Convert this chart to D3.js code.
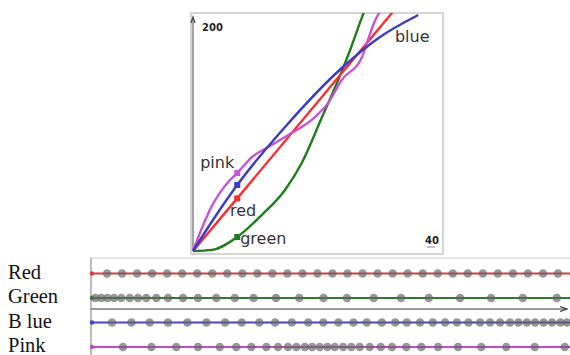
<!DOCTYPE html>
<html>
<head>
<meta charset="utf-8">
<script src="https://cdn.jsdelivr.net/npm/d3@7"></script>
<style>
  body { margin: 0; background: #fff; }
  svg { display: block; }
</style>
</head>
<body>
<svg id="chart" width="570" height="355"></svg>
<script>
// ---- data, top panel (input 0..40, output 0..200) ----
const redCurve = [[0, 0], [7.4, 47], [34, 217]];
const blueCurve = [[0, 0], [3.7, 30.6], [7.4, 58.9], [15.4, 110.7], [24.9, 163.4], [31, 190], [37.7, 210.7]];
const pinkCurve = [[0, 0], [3.1, 39.6], [5.9, 61.6], [7.4, 69.6], [9.9, 83.9], [12.6, 92.9], [15.4, 101.8], [20.4, 119.6], [22.6, 132], [24.9, 152.7], [28.3, 173.2], [29.1, 185.7], [30.5, 206], [31.3, 214]];
const greenCurve = [[0, 0], [3.2, 1], [7.4, 12.5], [11.5, 32.1], [15.4, 54.5], [18.2, 78.6], [21.6, 119.6], [24.3, 152.7], [26.3, 179.5], [28.3, 209], [28.8, 216]];
const markerX = 7.4;
const curveLabels = [
  {name: "pink", x: 1.2, y: 74},
  {name: "red", x: 6.2, y: 31},
  {name: "green", x: 7.9, y: 6},
  {name: "blue", x: 33.8, y: 187}
];
const yTickLabel = "200";
const xTickLabel = "40";

// ---- data, bottom panel (sample positions) ----
const rowLabels = ["Red", "Green", "B lue", "Pink"];
const redDots = d3.range(1, 32);
const greenDots = [0.22, 0.62, 1.02, 1.46, 1.95, 2.51, 3.06, 3.61, 4.28, 5.06, 6.05, 7.05, 8.27, 9.5, 10.75, 12.24, 13.79, 15.4, 16.96, 18.74, 20.56, 22.4, 24.49, 26.55, 28.66, 30.92];
const blueDots = [1.33, 2.62, 3.84, 5.06, 6.35, 7.61, 8.85, 9.96, 11.13, 12.18, 13.29, 14.39, 15.39, 16.39, 17.39, 18.28, 19.28, 20.17, 20.94, 21.82, 22.67, 23.49, 24.27, 25.04, 25.82, 26.48, 27.15, 27.81, 28.37, 28.93, 29.48, 30.04, 30.6, 31.16, 31.6];
const pinkDots = [2.06, 3.95, 5.61, 7.05, 8.5, 9.6, 10.6, 11.6, 12.38, 13.04, 13.6, 14.16, 14.64, 15.15, 15.66, 16.15, 16.7, 17.25, 17.81, 18.48, 19.21, 19.96, 20.91, 21.91, 23.02, 24.35, 25.9, 27.56, 29.45, 31.45];

const svg = d3.select("#chart");

// ================= top panel =================
const x = d3.scaleLinear().domain([0, 40]).range([193, 432]);
const y = d3.scaleLinear().domain([0, 200]).range([251, 27]);

const box = {x: 191, y: 13, w: 252, h: 241};

svg.append("defs").append("clipPath").attr("id", "boxclip")
  .append("rect").attr("x", box.x).attr("y", box.y).attr("width", box.w).attr("height", box.h);

svg.append("rect")
  .attr("x", box.x).attr("y", box.y).attr("width", box.w).attr("height", box.h)
  .attr("fill", "#fff").attr("stroke", "#c8c8c8").attr("stroke-width", 1.5);

// left axis with little arrow
svg.append("line")
  .attr("x1", x(0)).attr("x2", x(0)).attr("y1", y(0)).attr("y2", 18)
  .attr("stroke", "#666").attr("stroke-width", 1.2);
svg.append("path")
  .attr("d", `M${x(0) - 2},23 L${x(0)},17 L${x(0) + 2},23`)
  .attr("fill", "none").attr("stroke", "#444").attr("stroke-width", 1.2);

svg.append("text")
  .attr("x", x(0) + 9).attr("y", y(200) + 4)
  .attr("font-family", "DejaVu Sans, sans-serif").attr("font-size", 10).attr("font-weight", "bold")
  .attr("fill", "#222").text(yTickLabel);
svg.append("text")
  .attr("x", x(40)).attr("y", y(0) - 7).attr("text-anchor", "middle")
  .attr("font-family", "DejaVu Sans, sans-serif").attr("font-size", 10).attr("font-weight", "bold")
  .attr("fill", "#222").text(xTickLabel);
svg.append("line")
  .attr("x1", x(40) - 5).attr("x2", x(40) + 3).attr("y1", y(0) - 4).attr("y2", y(0) - 4)
  .attr("stroke", "#888").attr("stroke-width", 1);

const line = d3.line().x(d => x(d[0])).y(d => y(d[1])).curve(d3.curveMonotoneX);
const curves = [
  {data: greenCurve, color: "#1e7d1e"},
  {data: redCurve, color: "#ff2b2b"},
  {data: pinkCurve, color: "#c455d6"},
  {data: blueCurve, color: "#3b3bc4"}
];
const gc = svg.append("g").attr("clip-path", "url(#boxclip)");
gc.selectAll("path.curve").data(curves).join("path")
  .attr("class", "curve")
  .attr("d", d => line(d.data))
  .attr("fill", "none")
  .attr("stroke", d => d.color)
  .attr("stroke-width", 2.4);

// square markers where each curve crosses markerX
function valueAt(data, xv) {
  for (let i = 1; i < data.length; i++) {
    if (data[i][0] >= xv) {
      const a = data[i - 1], b = data[i];
      return a[1] + (b[1] - a[1]) * (xv - a[0]) / (b[0] - a[0]);
    }
  }
  return data[data.length - 1][1];
}
gc.selectAll("rect.mk").data(curves).join("rect")
  .attr("class", "mk")
  .attr("x", x(markerX) - 3).attr("y", d => y(valueAt(d.data, markerX)) - 3)
  .attr("width", 6).attr("height", 6)
  .attr("fill", d => d.color);

svg.selectAll("text.cl").data(curveLabels).join("text")
  .attr("class", "cl")
  .attr("x", d => x(d.x)).attr("y", d => y(d.y))
  .attr("font-family", "DejaVu Sans, sans-serif").attr("font-size", 16)
  .attr("fill", "#333")
  .text(d => d.name);

// ================= bottom panel =================
const xb = d3.scaleLinear().domain([0, 31]).range([92, 558]);
const yb = d3.scalePoint().domain(rowLabels).range([273.5, 347]);

svg.append("line").attr("x1", 91).attr("x2", 570).attr("y1", 258).attr("y2", 258)
  .attr("stroke", "#ddd").attr("stroke-width", 1.5);
svg.append("line").attr("x1", 91).attr("x2", 91).attr("y1", 258).attr("y2", 355)
  .attr("stroke", "#999").attr("stroke-width", 1.3);

// arrow axis between Green and Blue
const ay = yb("Green") + 11;
svg.append("line").attr("x1", 91).attr("x2", 566).attr("y1", ay).attr("y2", ay)
  .attr("stroke", "#777").attr("stroke-width", 1.4);
svg.append("path").attr("d", `M560,${ay - 2.5} L567,${ay} L560,${ay + 2.5}`)
  .attr("fill", "none").attr("stroke", "#333").attr("stroke-width", 1.2);

const rows = [
  {label: "Red", dots: redDots, color: "#d83c3c"},
  {label: "Green", dots: greenDots, color: "#2e7a2e"},
  {label: "B lue", dots: blueDots, color: "#4646c2"},
  {label: "Pink", dots: pinkDots, color: "#c447cc"}
];

svg.selectAll("text.rl").data(rows).join("text")
  .attr("class", "rl")
  .attr("x", 8).attr("y", d => yb(d.label) + 5)
  .attr("font-family", "Liberation Serif, Times New Roman, serif").attr("font-size", 20.5)
  .attr("fill", "#111")
  .text(d => d.label);

const rg = svg.selectAll("g.row").data(rows).join("g").attr("class", "row");
rg.append("line")
  .attr("x1", xb(0)).attr("x2", 570)
  .attr("y1", d => yb(d.label)).attr("y2", d => yb(d.label))
  .attr("stroke", d => d.color).attr("stroke-width", 2);
rg.append("circle")
  .attr("cx", xb(0)).attr("cy", d => yb(d.label)).attr("r", 2.2)
  .attr("fill", d => d.color);
rg.each(function (d) {
  d3.select(this).selectAll("circle.dot").data(d.dots).join("circle")
    .attr("class", "dot")
    .attr("cx", v => xb(v)).attr("cy", yb(d.label)).attr("r", 4.3)
    .attr("fill", "#666").attr("fill-opacity", 0.68);
});
</script>
</body>
</html>
